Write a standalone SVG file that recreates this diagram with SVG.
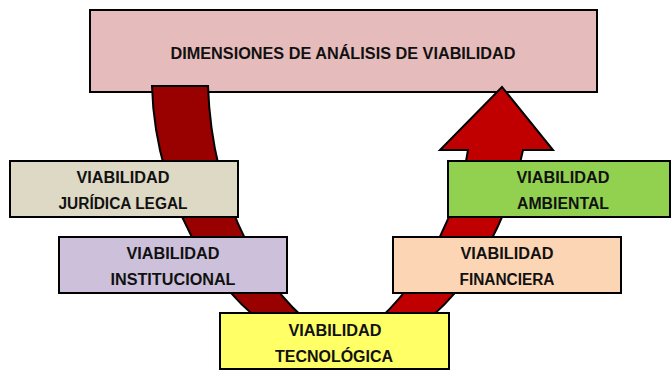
<svg xmlns="http://www.w3.org/2000/svg" width="671" height="372" viewBox="0 0 671 372">
<style>
.box{stroke:#000;stroke-width:2}
.t{font-family:"Liberation Sans",Arial,sans-serif;font-weight:bold;font-size:16px;fill:#111;text-anchor:middle}
.arr{stroke:#000;stroke-width:2;stroke-linejoin:miter}
</style>
<rect width="671" height="372" fill="#fff"/>
<g id="top">
<rect class="box" x="90" y="10" width="507" height="82" fill="#E6BBBB"/>
<text class="t" x="343" y="59" textLength="345" lengthAdjust="spacingAndGlyphs">DIMENSIONES DE ANÁLISIS DE VIABILIDAD</text>
</g>
<g id="connectors">
<path class="arr" fill="#990000" d="M152,86 L208,86 C212,200 262,300 341,345 L341,362 C220,330 155,200 152,86 Z"/>
<path class="arr" fill="#C00000" d="M341,345 C390,325 455,240 468,150 L440,150 L502,87 L553,150 L523,150 C500,260 430,345 341,362 Z"/>
</g>
<g id="juridica">
<rect class="box" x="10" y="161" width="228" height="56" fill="#DDD9C4"/>
<text class="t" x="123" y="183" textLength="93" lengthAdjust="spacingAndGlyphs">VIABILIDAD</text>
<text class="t" x="123" y="209" textLength="129" lengthAdjust="spacingAndGlyphs">JURÍDICA LEGAL</text>
</g>
<g id="institucional">
<rect class="box" x="59" y="237" width="228" height="56" fill="#CCC0DA"/>
<text class="t" x="173" y="259" textLength="93" lengthAdjust="spacingAndGlyphs">VIABILIDAD</text>
<text class="t" x="173" y="285" textLength="125" lengthAdjust="spacingAndGlyphs">INSTITUCIONAL</text>
</g>
<g id="ambiental">
<rect class="box" x="448" y="161" width="222" height="56" fill="#92D050"/>
<text class="t" x="563" y="183" textLength="93" lengthAdjust="spacingAndGlyphs">VIABILIDAD</text>
<text class="t" x="563" y="209" textLength="92" lengthAdjust="spacingAndGlyphs">AMBIENTAL</text>
</g>
<g id="financiera">
<rect class="box" x="393" y="237" width="228" height="56" fill="#FCD5B4"/>
<text class="t" x="507" y="259" textLength="93" lengthAdjust="spacingAndGlyphs">VIABILIDAD</text>
<text class="t" x="507" y="285" textLength="95" lengthAdjust="spacingAndGlyphs">FINANCIERA</text>
</g>
<g id="tecnologica">
<rect class="box" x="220" y="313" width="229" height="56" fill="#FFFF66"/>
<text class="t" x="335" y="336" textLength="93" lengthAdjust="spacingAndGlyphs">VIABILIDAD</text>
<text class="t" x="334" y="362" textLength="118" lengthAdjust="spacingAndGlyphs">TECNOLÓGICA</text>
</g>
</svg>
